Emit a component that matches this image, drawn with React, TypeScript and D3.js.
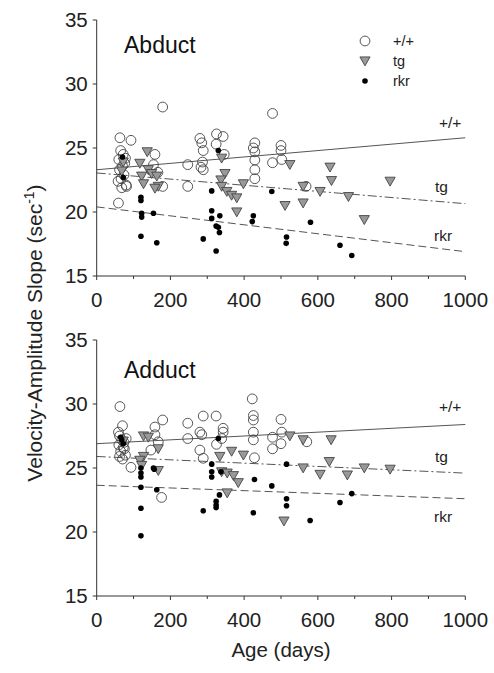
import React from "react";
import * as d3 from "d3";

// ---------- data (age in days, slope in sec^-1) ----------
const xTicks = [0, 200, 400, 600, 800, 1000];
const xMinorTicks = [100, 300, 500, 700, 900];
const yTicks = [15, 20, 25, 30, 35];
const groups = ["+/+", "tg", "rkr"];

// Abduct panel
const abdWtAge = [63, 93, 179, 477, 65, 72, 60, 76, 62, 74, 58, 80, 68, 59, 78, 70, 66, 81, 158, 154, 166, 179, 247, 247, 280, 285, 289, 287, 283, 289, 325, 343, 324, 346, 429, 425, 429, 429, 429, 429, 477, 500, 500, 502, 568];
const abdWtVal = [25.8, 25.6, 28.2, 27.7, 24.8, 24.5, 24.1, 23.8, 23.3, 22.9, 22.4, 22.1, 21.9, 20.7, 24.2, 23.6, 22.6, 22.0, 24.5, 23.7, 23.1, 22.0, 23.7, 22.0, 25.75, 25.4, 24.8, 23.9, 23.5, 23.3, 26.1, 25.9, 25.3, 24.5, 25.4, 25.0, 24.7, 24.06, 23.3, 22.6, 23.85, 25.2, 24.8, 24.1, 22.0];
const abdTgAge = [72, 68, 117, 122, 127, 137, 140, 149, 163, 167, 158, 339, 348, 337, 339, 353, 366, 380, 398, 380, 524, 511, 560, 560, 606, 633, 637, 683, 726, 796];
const abdTgVal = [23.9, 23.2, 23.8, 22.8, 22.2, 24.7, 23.3, 23.0, 22.8, 22.0, 21.85, 24.2, 23.0, 22.5, 22.0, 21.6, 21.3, 21.1, 22.2, 20.0, 23.7, 20.5, 22.0, 20.7, 21.6, 23.5, 22.45, 21.2, 19.4, 22.4];
const abdRkrAge = [70, 72, 330, 120, 120, 122, 122, 154, 120, 163, 289, 324, 312, 312, 312, 334, 324, 330, 333, 425, 422, 475, 515, 514, 580, 660, 692];
const abdRkrVal = [24.3, 22.7, 24.8, 21.15, 20.9, 19.9, 19.6, 19.9, 18.1, 17.6, 17.9, 16.95, 21.65, 20.1, 19.5, 19.7, 18.9, 18.8, 18.4, 19.7, 19.25, 21.6, 18.05, 17.55, 19.2, 17.4, 16.6];
// regression fits: value at age 0 and age 1000
const abdFitStart = [23.3, 23.05, 20.4];
const abdFitEnd = [25.8, 20.65, 16.9];

// Adduct panel
const addWtAge = [63, 70, 59, 62, 68, 74, 60, 72, 65, 78, 62, 70, 80, 75, 93, 158, 179, 158, 147, 167, 176, 247, 247, 289, 324, 280, 285, 280, 289, 343, 343, 339, 325, 422, 425, 425, 425, 425, 428, 477, 477, 500, 502, 500, 570];
const addWtVal = [29.8, 28.3, 27.8, 27.5, 27.2, 27.0, 26.8, 26.6, 26.3, 26.0, 25.9, 25.7, 27.3, 26.5, 25.05, 28.2, 28.75, 27.6, 26.4, 27.05, 22.7, 28.5, 27.3, 29.06, 29.06, 27.8, 27.6, 26.4, 25.76, 28.1, 27.8, 27.3, 26.85, 30.4, 29.1, 28.75, 27.8, 27.2, 25.8, 27.4, 26.5, 28.8, 27.8, 26.9, 27.05];
const addTgAge = [72, 127, 140, 167, 127, 117, 122, 167, 334, 366, 398, 339, 354, 371, 384, 354, 524, 560, 636, 631, 560, 606, 680, 726, 796, 508];
const addTgVal = [27.1, 27.5, 27.4, 26.5, 25.9, 25.6, 25.2, 24.8, 25.9, 26.3, 26.0, 24.7, 24.6, 24.4, 23.85, 23.05, 27.5, 27.2, 27.2, 25.5, 25.0, 24.5, 24.45, 25.0, 24.9, 20.85];
const addRkrAge = [68, 72, 65, 330, 154, 515, 120, 120, 120, 120, 120, 120, 156, 163, 312, 312, 312, 337, 333, 324, 324, 324, 289, 428, 475, 425, 515, 515, 579, 660, 692];
const addRkrVal = [27.2, 26.9, 27.4, 27.3, 25.0, 25.3, 25.0, 24.6, 24.3, 23.5, 21.85, 19.7, 24.9, 23.3, 25.3, 24.7, 24.3, 24.7, 22.9, 22.4, 22.1, 21.9, 21.66, 24.1, 23.6, 21.5, 22.6, 22.05, 20.9, 22.3, 23.0];
const addFitStart = [26.9, 25.9, 23.65];
const addFitEnd = [28.4, 24.6, 22.6];

// ---------- layout ----------
const W = 494;
const H = 673;
const X0 = 96.7;
const X1 = 465.3;
const FONT = "'Liberation Sans', Arial, Helvetica, sans-serif";
const AXIS = "#333";
const LINE = "#555";
const dashes = ["none", "9,3,2,3", "8,4"];

type PanelProps = {
  top: number;
  bottom: number;
  title: string;
  titleY: number;
  wt: [number[], number[]];
  tg: [number[], number[]];
  rkr: [number[], number[]];
  fitStart: number[];
  fitEnd: number[];
  labelY: number[];
  showLegend: boolean;
};

function Triangle({ x, y }: { x: number; y: number }) {
  const s = 5.1;
  const p = d3.path();
  p.moveTo(x - s, y - s * 0.8);
  p.lineTo(x + s, y - s * 0.8);
  p.lineTo(x, y + s * 0.95);
  p.closePath();
  return <path d={p.toString()} fill="#999" stroke="#444" strokeWidth={0.9} />;
}

function Panel(props: PanelProps) {
  const { top, bottom, title, titleY, wt, tg, rkr, fitStart, fitEnd, labelY, showLegend } = props;
  const x = d3.scaleLinear().domain([0, 1000]).range([X0, X1]);
  const y = d3.scaleLinear().domain([15, 35]).range([bottom, top]);
  const fitLines = groups.map((g, i) => ({ g, i, y0: fitStart[i], y1: fitEnd[i] }));
  const lineGen = d3
    .line<[number, number]>()
    .x((d) => x(d[0]))
    .y((d) => y(d[1]));
  return (
    <g>
      {fitLines.map((f) => (
        <path
          key={f.g}
          d={lineGen([[0, f.y0], [1000, f.y1]]) || ""}
          stroke={LINE}
          strokeWidth={1}
          fill="none"
          strokeDasharray={dashes[f.i]}
        />
      ))}
      {wt[0].map((a, i) => (
        <circle key={"w" + i} cx={x(a)} cy={y(wt[1][i])} r={4.9} fill="none" stroke="#444" strokeWidth={0.9} />
      ))}
      {tg[0].map((a, i) => (
        <Triangle key={"t" + i} x={x(a)} y={y(tg[1][i])} />
      ))}
      {rkr[0].map((a, i) => (
        <circle key={"r" + i} cx={x(a)} cy={y(rkr[1][i])} r={2.8} fill="#000" />
      ))}
      <line x1={X0} x2={X0} y1={top} y2={bottom} stroke={AXIS} strokeWidth={1} />
      <line x1={X0} x2={X1} y1={bottom} y2={bottom} stroke={AXIS} strokeWidth={1} />
      {yTicks.map((t) => (
        <g key={"y" + t}>
          <line x1={X0 - 4} x2={X0} y1={y(t)} y2={y(t)} stroke={AXIS} />
          <text x={X0 - 9} y={y(t)} dy="0.36em" textAnchor="end" fontSize={20.5} fontFamily={FONT} fill="#222">
            {t}
          </text>
        </g>
      ))}
      {xTicks.map((t) => (
        <g key={"x" + t}>
          <line x1={x(t)} x2={x(t)} y1={bottom} y2={bottom + 4} stroke={AXIS} />
          <text x={x(t)} y={bottom + 31} textAnchor="middle" fontSize={20.5} fontFamily={FONT} fill="#222">
            {t}
          </text>
        </g>
      ))}
      {xMinorTicks.map((t) => (
        <line key={"m" + t} x1={x(t)} x2={x(t)} y1={bottom} y2={bottom + 3} stroke={AXIS} />
      ))}
      <text x={124} y={titleY} fontSize={23} fontFamily={FONT} fill="#111">
        {title}
      </text>
      {groups.map((g, i) => (
        <text key={"l" + g} x={i === 0 ? 439 : i === 1 ? 435 : 434} y={labelY[i]} dy="0.35em" fontSize={15.5} fontFamily={FONT} fill="#222">
          {g}
        </text>
      ))}
      {showLegend && (
        <g>
          <circle cx={365} cy={top + 21} r={4.9} fill="none" stroke="#444" strokeWidth={0.9} />
          <Triangle x={365} y={top + 41} />
          <circle cx={365} cy={top + 61} r={2.8} fill="#000" />
          {groups.map((g, i) => (
            <text key={"lg" + g} x={393} y={top + 21 + i * 20} dy="0.35em" fontSize={14.5} fontFamily={FONT} fill="#222">
              {g}
            </text>
          ))}
        </g>
      )}
    </g>
  );
}

export default function App() {
  return (
    <svg width={W} height={H} style={{ position: "absolute", left: 0, top: 0, background: "#fff" }}>
      <rect width={W} height={H} fill="#fff" />
      <Panel
        top={20}
        bottom={276}
        title="Abduct"
        titleY={53}
        wt={[abdWtAge, abdWtVal]}
        tg={[abdTgAge, abdTgVal]}
        rkr={[abdRkrAge, abdRkrVal]}
        fitStart={abdFitStart}
        fitEnd={abdFitEnd}
        labelY={[123, 187, 236]}
        showLegend={true}
      />
      <Panel
        top={340}
        bottom={596}
        title="Adduct"
        titleY={378}
        wt={[addWtAge, addWtVal]}
        tg={[addTgAge, addTgVal]}
        rkr={[addRkrAge, addRkrVal]}
        fitStart={addFitStart}
        fitEnd={addFitEnd}
        labelY={[407, 457, 517]}
        showLegend={false}
      />
      <text
        transform={`translate(42,${333}) rotate(-90)`}
        textAnchor="middle"
        fontSize={21}
        fontFamily={FONT}
        fill="#222"
      >
        Velocity-Amplitude Slope (sec
        <tspan dy={-8} fontSize={14}>-1</tspan>
        <tspan dy={8}>)</tspan>
      </text>
      <text x={281} y={657} textAnchor="middle" fontSize={20.5} fontFamily={FONT} fill="#222">
        Age (days)
      </text>
    </svg>
  );
}
